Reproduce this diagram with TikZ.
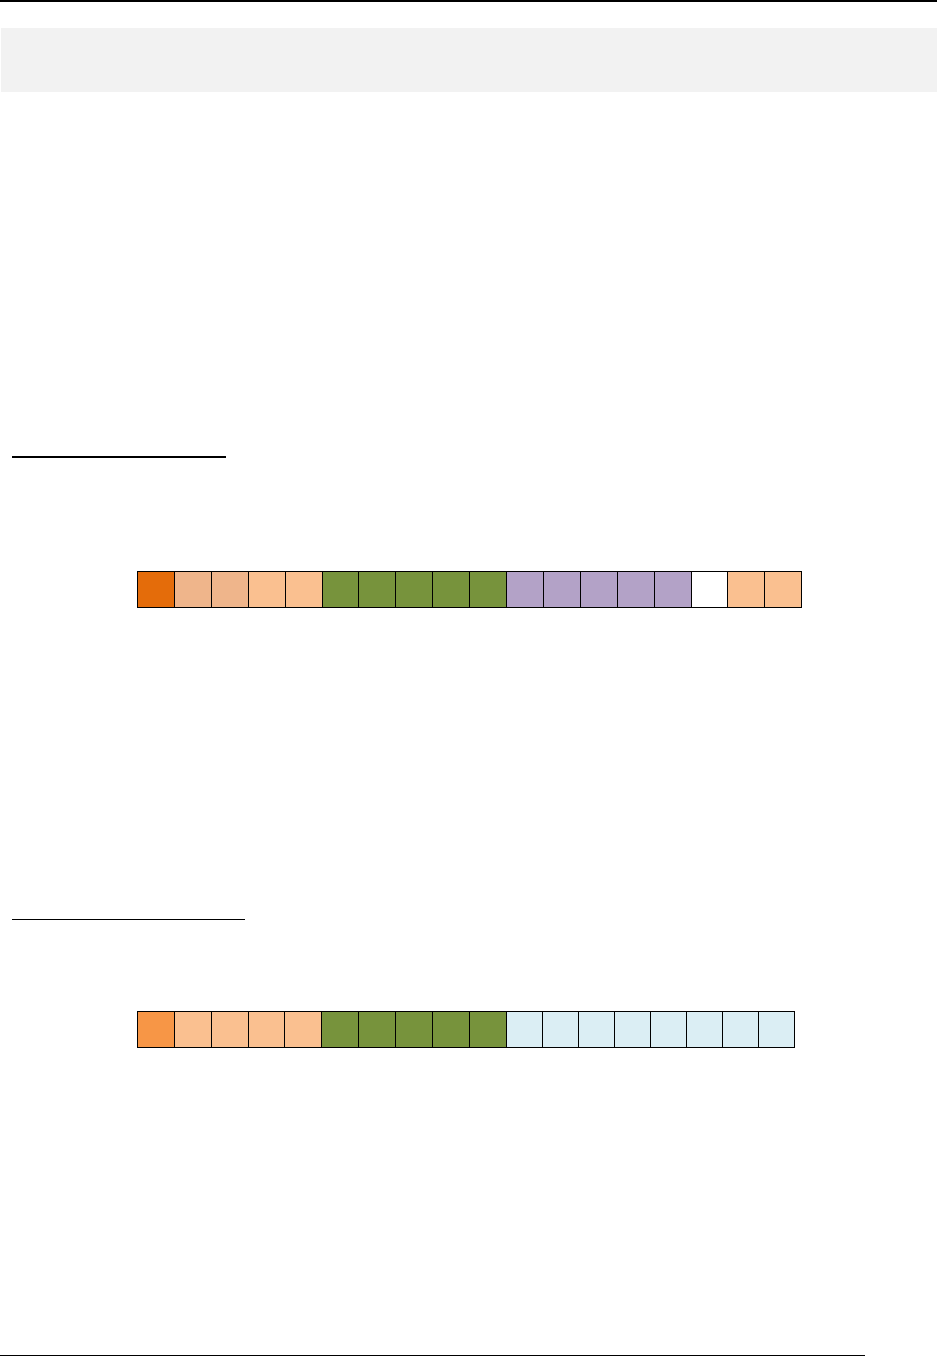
\documentclass[tikz,border=0pt]{standalone}
\usepackage{tikz}

\definecolor{naranjaosc}{HTML}{E46C0A}
\definecolor{naranja}{HTML}{F79646}
\definecolor{salmon}{HTML}{EFB58B}
\definecolor{melocoton}{HTML}{FAC090}
\definecolor{oliva}{HTML}{77933C}
\definecolor{lila}{HTML}{B3A2C7}
\definecolor{celeste}{HTML}{DBEEF4}
\definecolor{gris}{HTML}{F2F2F2}

\begin{document}
\begin{tikzpicture}[x=0.5pt, y=-0.5pt, celda/.style={draw, line width=0.5pt, minimum width=18.45pt, minimum height=18pt, inner sep=0pt, anchor=north west}]
        \useasboundingbox (0,0) rectangle (937,1357);
        \draw[line width=1pt] (0,1) -- (937,1);
        \fill[gris] (1,28) rectangle (937,92);
        \draw[line width=1pt] (12,456.5) -- (226,456.5);
        \draw[line width=0.5pt] (12,919) -- (245,919);
        
        % primera fila
        \foreach \c [count=\i] in {naranjaosc,salmon,salmon,melocoton,melocoton,oliva,oliva,oliva,oliva,oliva,lila,lila,lila,lila,lila,white,melocoton,melocoton}
            \node[celda, fill=\c] (a\i) at ({137+(\i-1)*36.9},571) {};
        
        % segunda fila
        \foreach \c [count=\i] in {naranja,melocoton,melocoton,melocoton,melocoton,oliva,oliva,oliva,oliva,oliva}
            \node[celda, fill=\c] (b\i) at ({137+(\i-1)*36.85},1011) {};
        \foreach \i in {11,...,18}
            \node[celda, fill=celeste, minimum width=18pt] (b\i) at ({505.5+(\i-11)*36},1011) {};
        
        \draw[line width=0.8pt] (0,1355.5) -- (865,1355.5);
    \end{tikzpicture}
\end{document}
